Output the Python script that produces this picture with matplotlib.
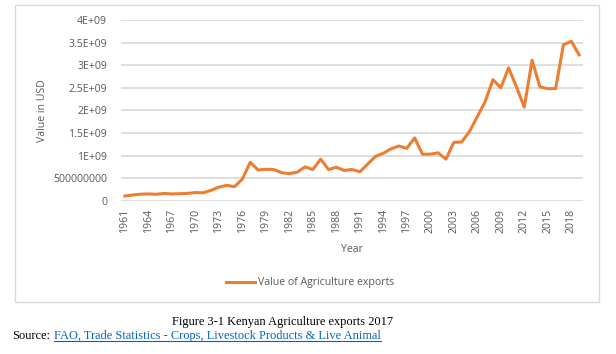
"""
Kenyan agriculture exports, 1961-2019 (value in USD).
Excel-style line chart with a figure caption and source line below.
"""

import matplotlib
matplotlib.use("Agg")
import matplotlib.pyplot as plt
from matplotlib.patches import Rectangle
from matplotlib.lines import Line2D


# ── Data ──────────────────────────────────────────────────────────────
years = list(range(1961, 2020))
export_value = [
    1.04e8, 1.26e8, 1.45e8, 1.50e8, 1.42e8, 1.60e8, 1.50e8, 1.55e8, 1.62e8, 1.80e8,
    1.75e8, 2.30e8, 3.00e8, 3.40e8, 3.10e8, 4.80e8, 8.50e8, 6.80e8, 6.95e8, 6.90e8,
    6.20e8, 6.00e8, 6.30e8, 7.50e8, 6.90e8, 9.20e8, 6.90e8, 7.40e8, 6.70e8, 6.90e8,
    6.40e8, 8.10e8, 9.80e8, 1.05e9, 1.15e9, 1.21e9, 1.16e9, 1.39e9, 1.03e9, 1.03e9,
    1.06e9, 9.20e8, 1.29e9, 1.30e9, 1.53e9, 1.86e9, 2.19e9, 2.68e9, 2.50e9, 2.94e9,
    2.52e9, 2.07e9, 3.11e9, 2.52e9, 2.48e9, 2.48e9, 3.45e9, 3.53e9, 3.23e9,
]
x_ticks = list(range(1961, 2019, 3))
y_ticks = [0, 5e8, 1e9, 1.5e9, 2e9, 2.5e9, 3e9, 3.5e9, 4e9]
y_tick_labels = ["0", "500000000", "1E+09", "1.5E+09", "2E+09",
                 "2.5E+09", "3E+09", "3.5E+09", "4E+09"]

ORANGE = "#ED7D31"
GRID = "#D9D9D9"
TEXT = "#595959"
LINK = "#0563C1"
SANS = ["Open Sans", "DejaVu Sans"]
SERIF = ["Liberation Serif", "DejaVu Serif"]

W, H = 616, 354
FS = 7.6


# ── Figure ────────────────────────────────────────────────────────────
fig = plt.figure(figsize=(W / 100, H / 100), dpi=100)
fig.patch.set_facecolor("white")

# chart-area border (pixel box 15..599 x 5..302)
fig.add_artist(Rectangle((15 / W, 1 - 302 / H), 584 / W, 297 / H,
                         transform=fig.transFigure, fill=False,
                         edgecolor=GRID, linewidth=1.0))

ax = fig.add_axes([121 / W, 1 - 200.7 / H, 462 / W, 180.7 / H])
ax.plot(years, export_value, color=ORANGE, linewidth=2.2,
        solid_joinstyle="round", label="Value of Agriculture exports", zorder=3)

ax.set_xlim(1960.5, 2019.5)
ax.set_ylim(0, 4e9)
ax.set_xticks(x_ticks)
ax.set_xticklabels([str(y) for y in x_ticks], rotation=90,
                   fontsize=FS, color=TEXT, family=SANS)
ax.set_yticks(y_ticks)
ax.set_yticklabels(y_tick_labels, fontsize=FS, color=TEXT, family=SANS)
ax.tick_params(length=0, pad=6)
ax.tick_params(axis="y", pad=10)
for s in ax.spines.values():
    s.set_visible(False)
ax.grid(axis="y", color=GRID, linewidth=1.2)
ax.set_axisbelow(True)

ax.set_xlabel("Year", fontsize=FS, color=TEXT, family=SANS, labelpad=8)
ax.set_ylabel("Value in USD", fontsize=FS, color=TEXT, family=SANS, labelpad=4)

fig.legend(loc="center", bbox_to_anchor=(310 / W, 1 - 283 / H), frameon=False,
           prop={"family": SANS, "size": FS}, labelcolor=TEXT,
           handlelength=2.8, handletextpad=0.3)


# ── Caption and source ────────────────────────────────────────────────
fig.text(283 / W, 1 - 322 / H, "Figure 3-1 Kenyan Agriculture exports 2017",
         ha="center", va="center", fontsize=8.9, family=SERIF, color="black")
src = fig.text(12.0 / W, 1 - 336 / H, "Source:", ha="left", va="center",
               fontsize=8.9, family=SERIF, color="black")
fig.canvas.draw()
src_bb = src.get_window_extent()
link = fig.text((src_bb.x1 + 4) / W, 1 - 336 / H,
                "FAO, Trade Statistics - Crops, Livestock Products & Live Animal",
                ha="left", va="center", fontsize=8.9, family=SERIF, color=LINK)

# underline the link text
fig.canvas.draw()
bb = link.get_window_extent()
uy = bb.y0 + 1.5
fig.add_artist(Line2D([bb.x0 / W, bb.x1 / W], [uy / H, uy / H],
                      transform=fig.transFigure, color=LINK, linewidth=0.8))

plt.savefig("out.png", dpi=100)
